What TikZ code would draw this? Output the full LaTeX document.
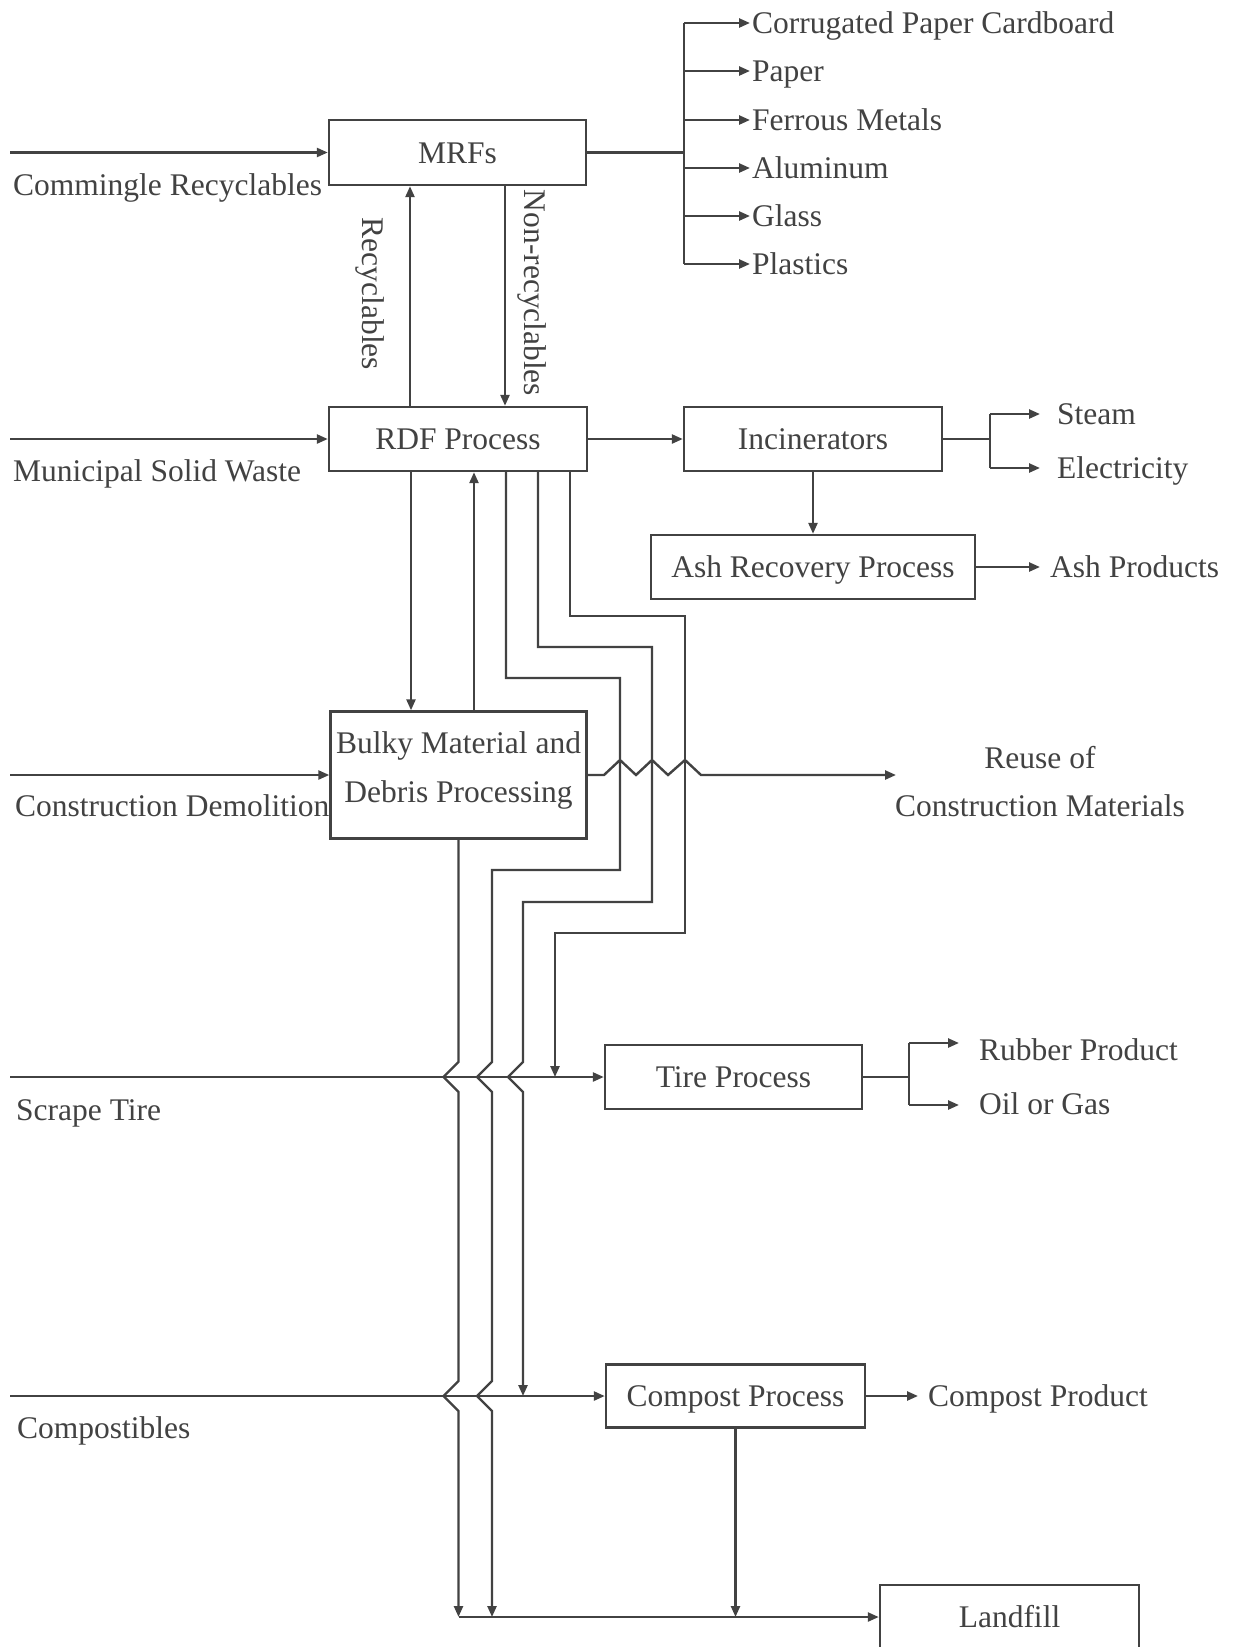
\documentclass[tikz,border=0pt]{standalone}
\usepackage{fontspec}
\setmainfont{Liberation Serif}
\usetikzlibrary{arrows.meta}
\definecolor{ink}{HTML}{424242}
\begin{document}
\begin{tikzpicture}[x=1pt,y=-1pt,
  every node/.style={text=ink, font=\fontsize{31.5}{48}\selectfont},
  box/.style={draw=ink, line width=2.4pt, inner sep=0pt, align=center},
  one/.style={text height=21pt, text depth=0pt},
  lbl/.style={anchor=west, inner sep=0pt, text height=21pt, text depth=0pt},
  ln/.style={draw=ink, line width=2.4pt, line join=miter},
  arr/.style={ln, -{Triangle[length=11pt,width=9pt]}}]
\fill[white] (0,0) rectangle (1239,1647);
\useasboundingbox (0,0) rectangle (1239,1647);

% boxes
\node[box, one, minimum width=257pt, minimum height=65pt] (mrf) at (457.5,152.5) {MRFs};
\node[box, one, minimum width=258pt, minimum height=64pt] (rdf) at (458,439) {RDF Process};
\node[box, one, minimum width=258pt, minimum height=64pt] (inc) at (813,439) {Incinerators};
\node[box, one, minimum width=324pt, minimum height=64pt] (ash) at (813,567) {Ash Recovery Process};
\node[box, minimum width=256pt, minimum height=127pt, text depth=15pt,
  font=\fontsize{31.5}{49}\selectfont] (bulky) at (458.5,775) {Bulky Material and\\Debris Processing};
\node[box, one, minimum width=257pt, minimum height=64pt] (tire) at (733.5,1077) {Tire Process};
\node[box, one, minimum width=259pt, minimum height=63pt] (comp) at (735.5,1396) {Compost Process};
\node[box, one, minimum width=259pt, minimum height=64pt] (land) at (1009.5,1617) {Landfill};

% input labels
\node[lbl] (lcr) at (13,185) {Commingle Recyclables};
\node[lbl] (lmsw) at (13,471) {Municipal Solid Waste};
\node[lbl] (lcd) at (15,806) {Construction Demolition};
\node[lbl] (lst) at (16,1110) {Scrape Tire};
\node[lbl] (lco) at (17,1428) {Compostibles};

% input arrows
\coordinate (in1) at (10,152.5);
\coordinate (in2) at (10,439);
\coordinate (in3) at (10,775);
\coordinate (in4) at (10,1077);
\coordinate (in5) at (10,1396);
\draw[arr] (in1) -- (mrf.west);
\draw[arr] (in2) -- (rdf.west);
\draw[arr] (in3) -- (bulky.west);
\draw[arr] (in4) -- (tire.west);
\draw[arr] (in5) -- (comp.west);

% MRF outputs
\coordinate (bm) at (684,152.5);
\node[lbl] (o1) at (752,23) {Corrugated Paper Cardboard};
\node[lbl] (o2) at (752,71) {Paper};
\node[lbl] (o3) at (752,120) {Ferrous Metals};
\node[lbl] (o4) at (752,168) {Aluminum};
\node[lbl] (o5) at (752,216) {Glass};
\node[lbl] (o6) at (752,264) {Plastics};
\draw[ln] (mrf.east) -- (bm);
\draw[ln] (o1 -| bm) -- (o6 -| bm);
\foreach \o in {o1,o2,o3,o4,o5,o6}{
  \draw[arr, shorten >=2pt] (\o -| bm) -- (\o.west);
}

% Recyclables / Non-recyclables
\coordinate (xr) at (410,0);
\coordinate (xn) at (505,0);
\draw[arr] (rdf.north -| xr) -- (mrf.south -| xr);
\draw[arr] (mrf.south -| xn) -- (rdf.north -| xn);
\node[rotate=-90, inner sep=0pt, text height=21pt, text depth=0pt] (lrec) at (373,294) {Recyclables};
\node[rotate=-90, inner sep=0pt, text height=21pt, text depth=0pt] (lnon) at (535,293) {Non-recyclables};

% RDF -> Incinerators -> outputs
\draw[arr] (rdf.east) -- (inc.west);
\coordinate (bi) at (990,439);
\node[lbl] (steam) at (1057,414) {Steam};
\node[lbl] (elec) at (1057,468) {Electricity};
\draw[ln] (inc.east) -- (bi);
\draw[ln] (steam -| bi) -- (elec -| bi);
\draw[arr, shorten >=17pt] (steam -| bi) -- (steam.west);
\draw[arr, shorten >=17pt] (elec -| bi) -- (elec.west);
\draw[arr] (inc.south) -- (ash.north);
\node[lbl] (ashp) at (1050,567) {Ash Products};
\draw[arr, shorten >=10pt] (ash.east) -- (ashp.west);

% RDF <-> Bulky
\coordinate (xa) at (411,0);
\coordinate (xb) at (474,0);
\draw[arr] (rdf.south -| xa) -- (bulky.north -| xa);
\draw[arr] (bulky.north -| xb) -- (rdf.south -| xb);

% Bulky -> Reuse
\coordinate (reuseA) at (896,775);
\node[align=center] (reuse) at (1040,782) {Reuse of\\Construction Materials};
\draw[arr] (bulky.east) -- (604,775) -- (620,760) -- (636,775) -- (652,760)
  -- (668,775) -- (685,760) -- (701,775) -- (reuseA);

% long routed lines
\coordinate (xA) at (458.5,0);
\coordinate (xB) at (492,0);
\coordinate (xC) at (523,0);
\coordinate (xD) at (555,0);
\coordinate (sB) at (506,0);
\coordinate (sC) at (538,0);
\coordinate (sD) at (570,0);

\draw[arr] (bulky.south) -- (458.5,1062) -- (443.5,1077) -- (458.5,1092)
  -- (458.5,1381) -- (443.5,1396) -- (458.5,1411) -- (land.west -| xA);
\draw[arr] (rdf.south -| sB) -- (506,678) -- (620,678) -- (620,870) -- (492,870)
  -- (492,1062) -- (477,1077) -- (492,1092)
  -- (492,1381) -- (477,1396) -- (492,1411) -- (land.west -| xB);
\draw[arr] (rdf.south -| sC) -- (538,647) -- (652,647) -- (652,902) -- (523,902)
  -- (523,1062) -- (508,1077) -- (523,1092) -- (comp.west -| xC);
\draw[arr] (rdf.south -| sD) -- (570,616) -- (685,616) -- (685,933) -- (555,933)
  -- (tire.west -| xD);

% Tire outputs
\coordinate (bt) at (909,1077);
\coordinate (rubA) at (959,1043);
\coordinate (oilA) at (959,1105);
\node[lbl] (rub) at (979,1050) {Rubber Product};
\node[lbl] (oil) at (979,1104) {Oil or Gas};
\draw[ln] (tire.east) -- (bt);
\draw[ln] (rubA -| bt) -- (oilA -| bt);
\draw[arr] (rubA -| bt) -- (rubA);
\draw[arr] (oilA -| bt) -- (oilA);

% Compost outputs
\node[lbl] (cpp) at (928,1396) {Compost Product};
\draw[arr, shorten >=10pt] (comp.east) -- (cpp.west);
\draw[arr] (comp.south) -- (land.west -| comp.south);

% Landfill
\draw[arr] (land.west -| xA) -- (land.west);
\end{tikzpicture}
\end{document}
